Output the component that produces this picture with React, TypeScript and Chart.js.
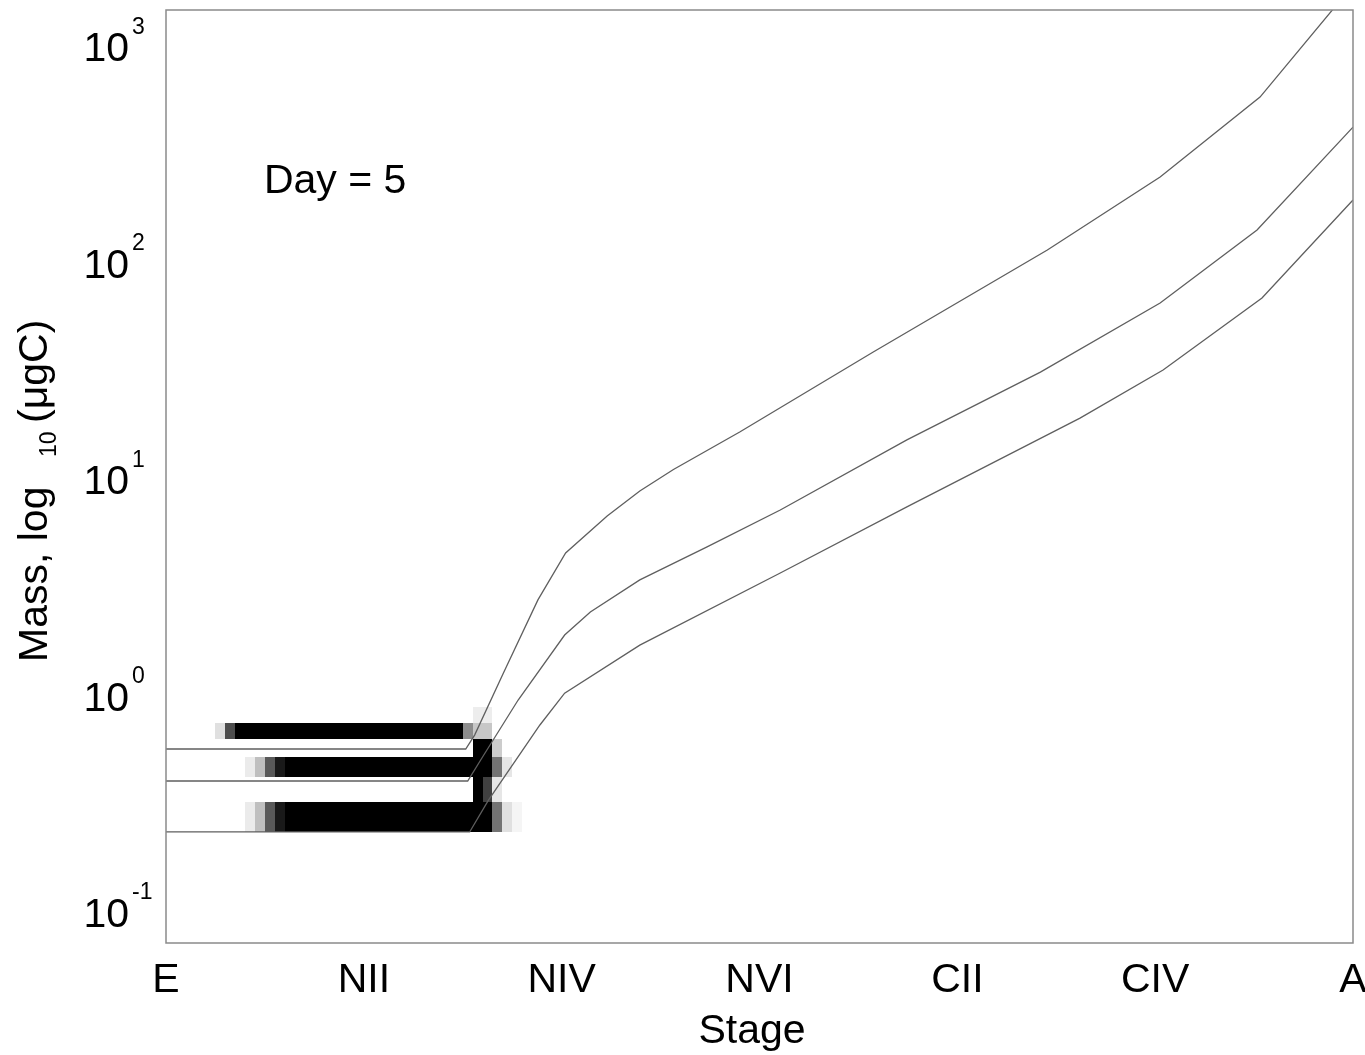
import { useEffect, useRef } from "react";
import { Chart, registerables } from "chart.js";

Chart.register(...registerables);

// Copepod development stages along the x axis (index = stage number)
const STAGE_NAMES = ["E", "NI", "NII", "NIII", "NIV", "NV", "NVI", "CI", "CII", "CIII", "CIV", "CV", "A"];
const STAGE_TICKS = [0, 2, 4, 6, 8, 10, 12];
const MASS_DECADES = [-1, 0, 1, 2, 3];

// Axis limits
const STAGE_MIN = 0;
const STAGE_MAX = 12;
const MASS_MIN = Math.pow(10, -1.1455);
const MASS_MAX = Math.pow(10, 3.164);

// Upper mass envelope (µgC) by stage position
const UPPER_STAGE = [0, 3.03, 3.12, 3.41, 3.76, 4.04, 4.46, 4.79, 5.13, 5.8, 7.15, 8.91, 10.05, 11.06, 12];
const UPPER_MASS = [0.563, 0.563, 0.653, 1.26, 2.75, 4.53, 6.71, 8.76, 11.0, 16.4, 38.4, 113.6, 247, 578, 1900];

// Mean mass by stage position
const MIDDLE_STAGE = [0, 3.05, 3.2, 3.56, 4.03, 4.29, 4.79, 5.47, 6.21, 7.49, 8.84, 10.05, 11.03, 12];
const MIDDLE_MASS = [0.4007, 0.4007, 0.517, 0.948, 1.893, 2.42, 3.4, 4.83, 7.15, 15.07, 31.0, 64.7, 140.6, 420];

// Lower mass envelope by stage position
const LOWER_STAGE = [0, 3.07, 3.26, 3.78, 4.03, 4.79, 6.21, 7.49, 9.24, 10.08, 11.08, 12];
const LOWER_MASS = [0.233, 0.233, 0.327, 0.727, 1.02, 1.7, 3.66, 7.39, 19.0, 31.7, 68.2, 193.3];

// Population density image: mass bin edges (µgC) and, per bin, runs of [stage from, stage to, density]
const MASS_BIN_EDGES = [0.233, 0.32, 0.418, 0.517, 0.626, 0.742, 0.88];
const BIN_0: number[][] = [[0.8, 0.9, 0.08], [0.9, 1.0, 0.25], [1.0, 1.1, 0.65], [1.1, 1.2, 0.9], [1.2, 3.3, 1], [3.3, 3.4, 0.55], [3.4, 3.5, 0.12], [3.5, 3.6, 0.04]];
const BIN_1: number[][] = [[3.1, 3.2, 1], [3.2, 3.3, 0.75], [3.3, 3.4, 0.1]];
const BIN_2: number[][] = [[0.8, 0.9, 0.08], [0.9, 1.0, 0.25], [1.0, 1.1, 0.65], [1.1, 1.2, 0.9], [1.2, 3.3, 1], [3.3, 3.4, 0.55], [3.4, 3.5, 0.1]];
const BIN_3: number[][] = [[3.1, 3.3, 1], [3.3, 3.4, 0.2]];
const BIN_4: number[][] = [[0.5, 0.6, 0.12], [0.6, 0.7, 0.7], [0.7, 3.0, 1], [3.0, 3.1, 0.45], [3.1, 3.3, 0.22]];
const BIN_5: number[][] = [[3.1, 3.3, 0.07]];
const DENSITY_BINS = [BIN_0, BIN_1, BIN_2, BIN_3, BIN_4, BIN_5];

const DAY = 5;
const DAY_LABEL_STAGE = 0.99;
const DAY_LABEL_MASS = 208;

const FONT = '"Liberation Sans", Arial, Helvetica, sans-serif';
const LINE_COLOR = "#5f5f5f";
const AXIS_COLOR = "#8a8a8a";

const toPoints = (xs: number[], ys: number[]) => xs.map((x, i) => ({ x, y: ys[i] }));

const densityPlugin = {
  id: "densityImage",
  beforeDatasetsDraw(chart: any) {
    const { ctx, chartArea, scales } = chart;
    const x = scales.x;
    const y = scales.y;
    ctx.save();
    ctx.beginPath();
    ctx.rect(chartArea.left, chartArea.top, chartArea.right - chartArea.left, chartArea.bottom - chartArea.top);
    ctx.clip();
    ctx.filter = "blur(0.7px)";
    DENSITY_BINS.forEach((runs, i) => {
      const yTop = Math.round(y.getPixelForValue(MASS_BIN_EDGES[i + 1]));
      const yBot = Math.round(y.getPixelForValue(MASS_BIN_EDGES[i]));
      runs.forEach(([s0, s1, d]) => {
        const g = Math.round(255 * (1 - d));
        ctx.fillStyle = `rgb(${g},${g},${g})`;
        const x0 = Math.round(x.getPixelForValue(s0));
        const x1 = Math.round(x.getPixelForValue(s1));
        ctx.fillRect(x0, yTop, x1 - x0, yBot - yTop);
      });
    });
    ctx.restore();
  },
};

const frameAndLabelsPlugin = {
  id: "frameAndLabels",
  afterDraw(chart: any) {
    const { ctx, chartArea, scales } = chart;
    const x = scales.x;
    const y = scales.y;
    const { left, right, top, bottom } = chartArea;
    ctx.save();

    // axes box
    ctx.strokeStyle = AXIS_COLOR;
    ctx.lineWidth = 1.5;
    ctx.strokeRect(left, top, right - left, bottom - top);

    ctx.fillStyle = "#000";
    ctx.textBaseline = "alphabetic";

    // stage tick labels
    ctx.font = `41px ${FONT}`;
    ctx.textAlign = "center";
    STAGE_TICKS.forEach((s) => {
      ctx.fillText(STAGE_NAMES[s], x.getPixelForValue(s), 992);
    });

    // mass tick labels: 10 with exponent
    MASS_DECADES.forEach((e) => {
      const py = y.getPixelForValue(Math.pow(10, e));
      ctx.font = `41px ${FONT}`;
      ctx.textAlign = "right";
      ctx.fillText("10", 129, py + 15.5);
      ctx.font = `23px ${FONT}`;
      ctx.textAlign = "left";
      ctx.fillText(String(e), 132, py - 12);
    });

    // x axis title
    ctx.font = `41px ${FONT}`;
    ctx.textAlign = "center";
    ctx.fillText("Stage", 752, 1043);

    // y axis title with subscript
    ctx.save();
    ctx.translate(47, 662);
    ctx.rotate(-Math.PI / 2);
    ctx.textAlign = "left";
    ctx.font = `41px ${FONT}`;
    ctx.fillText("Mass, log", 0, 0);
    ctx.font = `23px ${FONT}`;
    ctx.fillText("10", 205, 9);
    ctx.font = `41px ${FONT}`;
    ctx.fillText("(μgC)", 239, 0);
    ctx.restore();

    // day annotation
    ctx.font = `41px ${FONT}`;
    ctx.textAlign = "left";
    ctx.fillText(`Day = ${DAY}`, x.getPixelForValue(DAY_LABEL_STAGE), y.getPixelForValue(DAY_LABEL_MASS));

    ctx.restore();
  },
};

export default function App() {
  const canvasRef = useRef<HTMLCanvasElement | null>(null);

  useEffect(() => {
    const canvas = canvasRef.current;
    if (!canvas) return;
    const lineStyle = {
      borderColor: LINE_COLOR,
      borderWidth: 1.3,
      pointRadius: 0,
      tension: 0,
      fill: false,
    };
    const chart = new Chart(canvas, {
      type: "line",
      data: {
        datasets: [
          { label: "upper", data: toPoints(UPPER_STAGE, UPPER_MASS), ...lineStyle },
          { label: "mean", data: toPoints(MIDDLE_STAGE, MIDDLE_MASS), ...lineStyle },
          { label: "lower", data: toPoints(LOWER_STAGE, LOWER_MASS), ...lineStyle },
        ],
      },
      options: {
        animation: false,
        responsive: false,
        devicePixelRatio: 1,
        layout: { padding: { left: 166, right: 12, top: 10, bottom: 112 } },
        plugins: { legend: { display: false }, tooltip: { enabled: false } },
        scales: {
          x: { type: "linear", min: STAGE_MIN, max: STAGE_MAX, display: false },
          y: { type: "logarithmic", min: MASS_MIN, max: MASS_MAX, display: false },
        },
      },
      plugins: [densityPlugin, frameAndLabelsPlugin],
    });
    return () => chart.destroy();
  }, []);

  return (
    <div style={{ position: "absolute", left: 0, top: 0, width: 1365, height: 1055, background: "#fff" }}>
      <canvas ref={canvasRef} width={1365} height={1055} style={{ display: "block" }} />
    </div>
  );
}
